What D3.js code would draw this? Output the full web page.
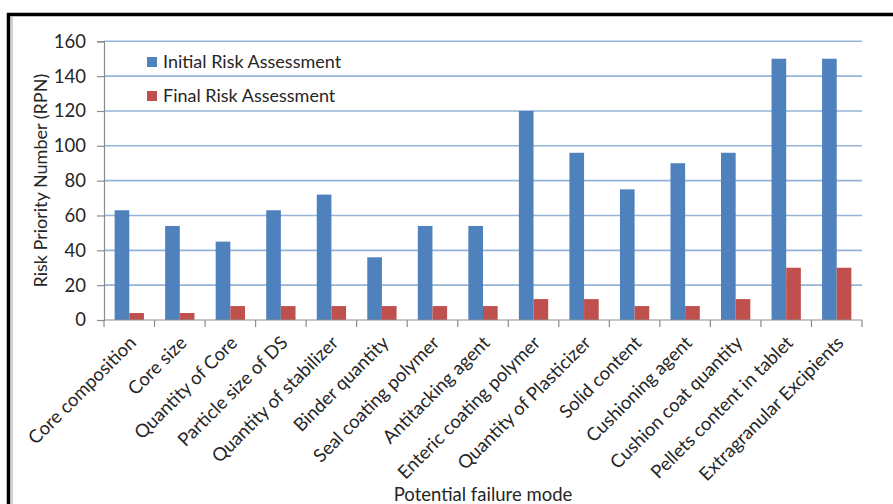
<!DOCTYPE html>
<html>
<head>
<meta charset="utf-8">
<script src="https://cdn.jsdelivr.net/npm/d3@7/dist/d3.min.js"></script>
<style>
  html, body { margin: 0; padding: 0; background: #ffffff; }
  svg { display: block; font-family: Lato, "Open Sans", "Noto Sans", sans-serif; }
</style>
</head>
<body>
<svg id="chart" width="893" height="504"></svg>
<script>
// Failure modes and their risk priority numbers
const categories = [
  "Core composition", "Core size", "Quantity of Core", "Particle size of DS",
  "Quantity of stabilizer", "Binder quantity", "Seal coating polymer",
  "Antitacking agent", "Enteric coating polymer", "Quantity of Plasticizer",
  "Solid content", "Cushioning agent", "Cushion coat quantity",
  "Pellets content in tablet", "Extragranular Excipients"
];
const initialRisk = [63, 54, 45, 63, 72, 36, 54, 54, 120, 96, 75, 90, 96, 150, 150];
const finalRisk   = [4, 4, 8, 8, 8, 8, 8, 8, 12, 12, 8, 8, 12, 30, 30];
const seriesNames = ["Initial Risk Assessment", "Final Risk Assessment"];
const yTicks = [0, 20, 40, 60, 80, 100, 120, 140, 160];

const colors = ["#4f81bd", "#c0504d"];
const textColor = "#262626";
const svg = d3.select("#chart");

// Frame around the figure
svg.append("line").attr("x1", 12).attr("x2", 12).attr("y1", 17).attr("y2", 504)
  .attr("stroke", "#b0b0b0").attr("stroke-width", 1.2);
svg.append("line").attr("x1", 7).attr("x2", 893).attr("y1", 14.5).attr("y2", 14.5)
  .attr("stroke", "#000").attr("stroke-width", 3.5);
svg.append("line").attr("x1", 8.5).attr("x2", 8.5).attr("y1", 13).attr("y2", 504)
  .attr("stroke", "#000").attr("stroke-width", 3.5);

const plot = { left: 104, right: 862, top: 41.3, bottom: 320 };

const x = d3.scaleBand().domain(categories).range([plot.left, plot.right])
  .paddingInner(0.42).paddingOuter(0.21);
const xs = d3.scaleBand().domain(seriesNames).range([0, x.bandwidth()]);
const y = d3.scaleLinear().domain([0, 160]).range([plot.bottom, plot.top]);

// Horizontal gridlines
svg.append("g").selectAll("line").data(yTicks.filter(d => d > 0)).join("line")
  .attr("x1", plot.left).attr("x2", plot.right)
  .attr("y1", d => y(d)).attr("y2", d => y(d))
  .attr("stroke", "#95b3d7").attr("stroke-width", 1.6);

// Bars
const groups = svg.append("g").selectAll("g").data(categories).join("g")
  .attr("transform", d => `translate(${x(d)},0)`);
groups.selectAll("rect")
  .data((d, i) => [initialRisk[i], finalRisk[i]].map((v, k) => ({ v, k })))
  .join("rect")
  .attr("x", d => xs(seriesNames[d.k]))
  .attr("width", xs.bandwidth())
  .attr("y", d => y(d.v))
  .attr("height", d => y(0) - y(d.v))
  .attr("fill", d => colors[d.k]);

// Y axis
const yAxis = d3.axisLeft(y).tickValues(yTicks).tickSize(7).tickPadding(11);
const gy = svg.append("g").attr("transform", `translate(${plot.left},0)`).call(yAxis);
gy.select(".domain").attr("stroke", "#8c8c8c").attr("stroke-width", 1.2);
gy.selectAll(".tick line").attr("stroke", "#8c8c8c").attr("stroke-width", 1.2);
gy.selectAll(".tick text").attr("font-size", 18.5).attr("fill", textColor)
  .attr("font-family", "Lato, sans-serif");

// X axis with boundary ticks between categories
svg.append("line").attr("x1", plot.left).attr("x2", plot.right)
  .attr("y1", plot.bottom).attr("y2", plot.bottom)
  .attr("stroke", "#8c8c8c").attr("stroke-width", 1.2);
const step = (plot.right - plot.left) / categories.length;
svg.append("g").selectAll("line").data(d3.range(categories.length + 1)).join("line")
  .attr("x1", i => plot.left + i * step).attr("x2", i => plot.left + i * step)
  .attr("y1", plot.bottom).attr("y2", plot.bottom + 7)
  .attr("stroke", "#8c8c8c").attr("stroke-width", 1.2);

// Rotated category labels
svg.append("g").selectAll("text").data(categories).join("text")
  .attr("transform", d => `translate(${x(d) + x.bandwidth() / 2 + 8},${plot.bottom + 24}) rotate(-45)`)
  .attr("text-anchor", "end")
  .attr("font-size", 18.5)
  .attr("fill", textColor)
  .text(d => d);

// Axis titles
svg.append("text")
  .attr("transform", `translate(47,${(plot.top + plot.bottom) / 2 + 0}) rotate(-90)`)
  .attr("text-anchor", "middle").attr("font-size", 18).attr("fill", textColor)
  .text("Risk Priority Number (RPN)");
svg.append("text")
  .attr("x", 483).attr("y", 501)
  .attr("text-anchor", "middle").attr("font-size", 18.5).attr("fill", textColor)
  .text("Potential failure mode");

// Legend
const legend = svg.append("g").selectAll("g").data(seriesNames).join("g")
  .attr("transform", (d, i) => `translate(147,${57 + i * 34})`);
legend.append("rect").attr("width", 10).attr("height", 10).attr("fill", (d, i) => colors[i]);
legend.append("text").attr("x", 16).attr("y", 10.5).attr("font-size", 18).attr("fill", textColor)
  .text(d => d);
</script>
</body>
</html>
